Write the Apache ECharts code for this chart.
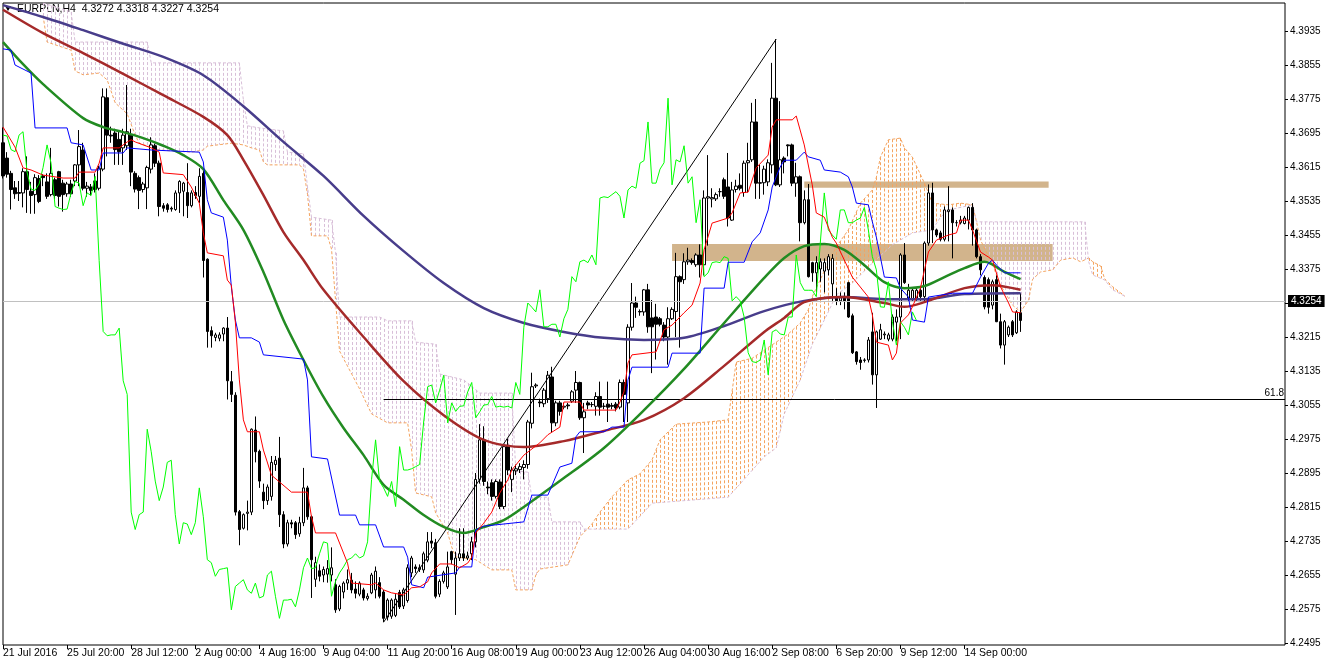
<!DOCTYPE html>
<html><head><meta charset="utf-8">
<script src="https://cdn.jsdelivr.net/npm/echarts/dist/echarts.min.js"></script>
<style>html,body{margin:0;padding:0;background:#fff}#c{width:1327px;height:664px}</style>
</head><body><div id="c"></div>
<script>
const symbolName = 'EURPLN', timeframe = 'H4';
const timeLabels = ['21 Jul 2016','25 Jul 20:00','28 Jul 12:00','2 Aug 00:00','4 Aug 16:00','9 Aug 04:00','11 Aug 20:00','16 Aug 08:00','19 Aug 00:00','23 Aug 12:00','26 Aug 04:00','30 Aug 16:00','2 Sep 08:00','6 Sep 20:00','9 Sep 12:00','14 Sep 00:00'];
const priceTicks = [4.2495,4.2575,4.2655,4.2735,4.2815,4.2895,4.2975,4.3055,4.3135,4.3215,4.3295,4.3375,4.3455,4.3535,4.3615,4.3695,4.3775,4.3855,4.3935];

const opens = [4.3672,4.3636,4.3600,4.3566,4.3555,4.3554,4.3604,4.3558,4.3550,4.3588,
4.3594,4.3580,4.3550,4.3585,4.3604,4.3577,4.3552,4.3575,4.3582,4.3620,
4.3655,4.3565,4.3568,4.3582,4.3565,4.3610,4.3778,4.3690,4.3695,4.3680,
4.3660,4.3665,4.3690,4.3600,4.3590,4.3562,4.3566,4.3610,4.3665,4.3624,
4.3524,4.3526,4.3518,4.3515,4.3554,4.3558,4.3555,4.3524,4.3555,4.3546,
4.3600,4.3398,4.3230,4.3214,4.3212,4.3222,4.3236,4.3110,4.3078,4.2804,
4.2765,4.2800,4.2803,4.2996,4.2946,4.2850,4.2830,4.2840,4.2915,4.2930,
4.2797,4.2728,4.2778,4.2778,4.2752,4.2778,4.2860,4.2792,4.2645,4.2665,
4.2655,4.2657,4.2655,4.2632,4.2575,4.2615,4.2636,4.2643,4.2622,4.2610,
4.2620,4.2600,4.2613,4.2620,4.2637,4.2615,4.2556,4.2558,4.2560,4.2614,
4.2582,4.2595,4.2660,4.2674,4.2668,4.2667,4.2690,4.2735,4.2731,4.2610,
4.2640,4.2627,4.2710,4.2657,4.2695,4.2705,4.2695,4.2705,4.2733,4.2880,
4.2973,4.2862,4.2872,4.2840,4.2874,4.2816,4.2960,4.2880,4.2900,4.2903,
4.2908,4.2915,4.3012,4.3100,4.3062,4.3058,4.3070,4.3121,4.3013,4.3060,
4.3050,4.3055,4.3064,4.3090,4.3108,4.3025,4.3060,4.3056,4.3052,4.3075,
4.3052,4.3057,4.3054,4.3057,4.3050,4.3108,4.3060,4.3238,4.3295,4.3275,
4.3274,4.3326,4.3260,4.3262,4.3258,4.3243,4.3215,4.3258,4.3275,4.3357,
4.3350,4.3392,4.3395,4.3385,4.3408,4.3385,4.3542,4.3540,4.3540,4.3557,
4.3585,4.3568,4.3490,4.3562,4.3572,4.3555,4.3625,4.3632,4.3721,4.3578,
4.3578,4.3580,4.3620,4.3777,4.3573,4.3636,4.3667,4.3667,4.3577,4.3592,
4.3484,4.3538,4.3390,4.3366,4.3375,4.3370,4.3373,4.3340,4.3310,4.3300,
4.3307,4.3343,4.3265,4.3180,4.3161,4.3160,4.3161,4.3227,4.3126,4.3210,
4.3220,4.3210,4.3210,4.3250,4.3262,4.3408,4.3305,4.3303,4.3305,4.3325,
4.3310,4.3436,4.3554,4.3467,4.3460,4.3445,4.3510,4.3514,4.3484,4.3484,
4.3482,4.3490,4.3520,4.3467,4.3404,4.3355,4.3350,4.3290,4.3350,4.3251,
4.3196,4.3220,4.3251,4.3225,4.3272];
const highs = [4.3708,4.3650,4.3606,4.3582,4.3582,4.3612,4.3640,4.3580,4.3598,4.3596,
4.3598,4.3600,4.3660,4.3590,4.3606,4.3585,4.3580,4.3585,4.3622,4.3702,
4.3672,4.3580,4.3575,4.3600,4.3618,4.3800,4.3800,4.3710,4.3705,4.3700,
4.3705,4.3808,4.3705,4.3605,4.3595,4.3580,4.3618,4.3685,4.3670,4.3630,
4.3530,4.3530,4.3522,4.3560,4.3584,4.3580,4.3624,4.3560,4.3570,4.3612,
4.3612,4.3400,4.3240,4.3225,4.3226,4.3238,4.3262,4.3135,4.3085,4.2808,
4.2800,4.2830,4.3000,4.3028,4.2950,4.2870,4.2868,4.2935,4.2935,4.2980,
4.2805,4.2785,4.2785,4.2782,4.2792,4.2907,4.2865,4.2795,4.2698,4.2680,
4.2675,4.2690,4.2720,4.2645,4.2632,4.2640,4.2668,4.2660,4.2640,4.2640,
4.2625,4.2612,4.2660,4.2675,4.2650,4.2620,4.2600,4.2600,4.2610,4.2620,
4.2625,4.2680,4.2700,4.2680,4.2680,4.2710,4.2756,4.2756,4.2740,4.2645,
4.2665,4.2710,4.2712,4.2710,4.2765,4.2765,4.2710,4.2745,4.2895,4.3010,
4.3005,4.2875,4.2880,4.2880,4.2880,4.2962,4.2975,4.2910,4.2915,4.2918,
4.2925,4.3020,4.3131,4.3106,4.3070,4.3095,4.3135,4.3145,4.3065,4.3065,
4.3060,4.3060,4.3090,4.3135,4.3110,4.3060,4.3065,4.3062,4.3085,4.3110,
4.3060,4.3110,4.3060,4.3062,4.3115,4.3115,4.3245,4.3342,4.3310,4.3280,
4.3328,4.3340,4.3302,4.3293,4.3262,4.3250,4.3285,4.3285,4.3413,4.3360,
4.3412,4.3425,4.3400,4.3412,4.3433,4.3560,4.3643,4.3565,4.3555,4.3565,
4.3590,4.3648,4.3580,4.3585,4.3600,4.3630,4.3672,4.3766,4.3775,4.3620,
4.3618,4.3633,4.3860,4.3916,4.3770,4.3640,4.3668,4.3670,4.3625,4.3595,
4.3560,4.3575,4.3392,4.3405,4.3400,4.3400,4.3410,4.3410,4.3330,4.3320,
4.3320,4.3345,4.3270,4.3182,4.3168,4.3165,4.3215,4.3272,4.3230,4.3246,
4.3228,4.3225,4.3268,4.3280,4.3412,4.3436,4.3340,4.3330,4.3330,4.3330,
4.3440,4.3574,4.3578,4.3470,4.3465,4.3522,4.3570,4.3520,4.3490,4.3500,
4.3500,4.3522,4.3530,4.3470,4.3410,4.3360,4.3355,4.3350,4.3360,4.3270,
4.3255,4.3242,4.3255,4.3278,4.3318];
const lows = [4.3588,4.3590,4.3515,4.3540,4.3535,4.3520,4.3507,4.3505,4.3505,4.3530,
4.3570,4.3540,4.3546,4.3540,4.3522,4.3510,4.3545,4.3545,4.3570,4.3570,
4.3560,4.3545,4.3548,4.3555,4.3560,4.3605,4.3640,4.3672,4.3620,4.3620,
4.3620,4.3655,4.3570,4.3555,4.3516,4.3555,4.3516,4.3600,4.3615,4.3499,
4.3510,4.3508,4.3510,4.3512,4.3507,4.3499,4.3495,4.3520,4.3540,4.3530,
4.3355,4.3190,4.3190,4.3205,4.3205,4.3205,4.3068,4.3062,4.2795,4.2725,
4.2762,4.2760,4.2796,4.2920,4.2860,4.2810,4.2820,4.2830,4.2900,4.2768,
4.2718,4.2722,4.2765,4.2740,4.2745,4.2770,4.2785,4.2601,4.2627,4.2640,
4.2638,4.2637,4.2640,4.2566,4.2570,4.2600,4.2620,4.2612,4.2600,4.2605,
4.2595,4.2595,4.2610,4.2600,4.2600,4.2544,4.2548,4.2552,4.2556,4.2575,
4.2575,4.2590,4.2650,4.2660,4.2662,4.2660,4.2685,4.2718,4.2600,4.2603,
4.2635,4.2622,4.2680,4.2561,4.2688,4.2688,4.2690,4.2690,4.2720,4.2870,
4.2865,4.2845,4.2830,4.2835,4.2810,4.2810,4.2890,4.2850,4.2890,4.2895,
4.2880,4.2905,4.3000,4.3095,4.3050,4.3050,4.3060,4.2990,4.3005,4.3030,
4.3045,4.3045,4.3060,4.3060,4.3020,4.2942,4.3045,4.3050,4.3030,4.3030,
4.3045,4.3015,4.3045,4.3040,4.3045,4.3015,4.3015,4.3230,4.3260,4.3265,
4.3265,4.3225,4.3130,4.3162,4.3240,4.3205,4.3150,4.3255,4.3215,4.3190,
4.3340,4.3385,4.3385,4.3380,4.3355,4.3360,4.3430,4.3520,4.3535,4.3545,
4.3540,4.3475,4.3488,4.3555,4.3560,4.3545,4.3555,4.3627,4.3540,4.3540,
4.3550,4.3570,4.3600,4.3570,4.3568,4.3600,4.3640,4.3570,4.3545,4.3440,
4.3480,4.3355,4.3345,4.3320,4.3345,4.3320,4.3360,4.3300,4.3290,4.3290,
4.3280,4.3260,4.3175,4.3150,4.3138,4.3155,4.3155,4.3103,4.3048,4.3208,
4.3210,4.3205,4.3205,4.3205,4.3210,4.3340,4.3300,4.3300,4.3300,4.3300,
4.3295,4.3430,4.3436,4.3450,4.3440,4.3440,4.3440,4.3400,4.3475,4.3480,
4.3480,4.3468,4.3430,4.3400,4.3360,4.3280,4.3270,4.3280,4.3250,4.3188,
4.3150,4.3215,4.3215,4.3222,4.3227];
const closes = [4.3594,4.3598,4.3562,4.3552,4.3553,4.3604,4.3562,4.3548,4.3590,4.3534,
4.3590,4.3546,4.3600,4.3548,4.3546,4.3550,4.3575,4.3552,4.3620,4.3663,
4.3565,4.3570,4.3560,4.3562,4.3612,4.3780,4.3690,4.3688,4.3656,4.3651,
4.3690,4.3698,4.3603,4.3563,4.3560,4.3575,4.3614,4.3667,4.3624,4.3522,
4.3518,4.3515,4.3516,4.3554,4.3581,4.3577,4.3524,4.3554,4.3548,4.3593,
4.3395,4.3228,4.3218,4.3220,4.3220,4.3236,4.3112,4.3080,4.2803,4.2762,
4.2797,4.2803,4.2998,4.2945,4.2876,4.2830,4.2862,4.2920,4.2925,4.2797,
4.2728,4.2778,4.2775,4.2750,4.2778,4.2860,4.2792,4.2691,4.2684,4.2652,
4.2668,4.2670,4.2672,4.2573,4.2628,4.2636,4.2644,4.2620,4.2612,4.2636,
4.2601,4.2605,4.2655,4.2664,4.2605,4.2553,4.2596,4.2596,4.2598,4.2580,
4.2620,4.2672,4.2695,4.2670,4.2672,4.2705,4.2733,4.2730,4.2605,4.2640,
4.2660,4.2674,4.2691,4.2695,4.2705,4.2695,4.2700,4.2733,4.2880,4.2973,
4.2875,4.2860,4.2840,4.2875,4.2816,4.2957,4.2902,4.2902,4.2905,4.2910,
4.2915,4.3015,4.3098,4.3102,4.3060,4.3090,4.3125,4.3013,4.3060,4.3040,
4.3052,4.3053,4.3086,4.3108,4.3025,4.3039,4.3055,4.3056,4.3075,4.3050,
4.3052,4.3050,4.3052,4.3048,4.3108,4.3080,4.3238,4.3295,4.3285,4.3274,
4.3326,4.3239,4.3239,4.3245,4.3245,4.3215,4.3258,4.3280,4.3357,4.3345,
4.3392,4.3396,4.3390,4.3408,4.3385,4.3542,4.3545,4.3543,4.3550,4.3557,
4.3546,4.3495,4.3561,4.3570,4.3565,4.3624,4.3630,4.3721,4.3577,4.3577,
4.3610,4.3625,4.3777,4.3573,4.3632,4.3627,4.3665,4.3577,4.3592,4.3484,
4.3538,4.3357,4.3366,4.3390,4.3392,4.3390,4.3404,4.3400,4.3300,4.3310,
4.3300,4.3262,4.3178,4.3157,4.3155,4.3161,4.3208,4.3126,4.3227,4.3232,
4.3222,4.3220,4.3262,4.3262,4.3408,4.3343,4.3325,4.3325,4.3325,4.3310,
4.3436,4.3554,4.3467,4.3455,4.3445,4.3514,4.3514,4.3484,4.3484,4.3490,
4.3495,4.3520,4.3467,4.3404,4.3373,4.3286,4.3285,4.3345,4.3251,4.3196,
4.3251,4.3238,4.3220,4.3274,4.3254];

// moving averages, sampled [bar, price]
const maGreen = [[0,4.3909],[5,4.3857],[10,4.3810],[20,4.3730],[25,4.3709],[30,4.3697],[35,4.3683],[40,4.3665],[45,4.3643],[50,4.3610],[55,4.3537],[60,4.3467],[65,4.3368],[70,4.3255],[75,4.3161],[80,4.3074],[85,4.3001],[90,4.2937],[95,4.2867],[100,4.2832],[105,4.2796],[110,4.2768],[115,4.2754],[120,4.2768],[125,4.2784],[130,4.2815],[140,4.2883],[150,4.2954],[160,4.3043],[170,4.3140],[180,4.3248],[190,4.3354],[195,4.3401],[200,4.3429],[205,4.3434],[210,4.3420],[215,4.3384],[220,4.3344],[225,4.3330],[230,4.3335],[235,4.3356],[240,4.3377],[245,4.3392],[250,4.3368],[254,4.3351]];
const maBrown = [[0,4.3985],[10,4.3930],[20,4.3883],[30,4.3834],[40,4.3784],[50,4.3733],[56,4.3690],[60,4.3632],[65,4.3549],[70,4.3462],[75,4.3396],[80,4.3326],[90,4.3215],[100,4.3111],[110,4.3031],[120,4.2973],[130,4.2956],[140,4.2970],[150,4.2994],[160,4.3020],[170,4.3071],[180,4.3147],[190,4.3227],[195,4.3260],[200,4.3297],[210,4.3309],[220,4.3295],[225,4.3286],[230,4.3297],[240,4.3330],[247,4.3337],[254,4.3326]];
const maNavy = [[0,4.3996],[10,4.3968],[20,4.3937],[30,4.3905],[40,4.3874],[50,4.3831],[60,4.3758],[70,4.3674],[80,4.3594],[90,4.3500],[100,4.3417],[110,4.3342],[120,4.3283],[130,4.3248],[140,4.3227],[150,4.3213],[160,4.3208],[170,4.3213],[180,4.3241],[190,4.3276],[200,4.3300],[210,4.3309],[220,4.3304],[230,4.3304],[240,4.3316],[254,4.3318]];

// Ichimoku
const tenkan = [[0,4.3709],[3,4.3662],[5,4.3613],[7,4.3608],[10,4.3596],[15,4.3589],[18,4.3589],[19,4.3603],[23,4.3603],[24,4.3624],[25,4.3660],[29,4.3660],[31,4.3674],[32,4.3679],[33,4.3674],[37,4.3660],[39,4.3650],[40,4.3601],[45,4.3597],[47,4.3568],[49,4.3530],[50,4.3460],[51,4.3413],[55,4.3406],[56,4.3349],[57,4.3337],[58,4.3250],[59,4.3114],[60,4.3020],[61,4.2992],[64,4.2992],[65,4.2949],[67,4.2890],[69,4.2874],[72,4.2850],[76,4.2850],[77,4.2792],[78,4.2754],[83,4.2754],[86,4.2683],[87,4.2636],[92,4.2632],[93,4.2636],[95,4.2620],[97,4.2613],[100,4.2608],[102,4.2625],[104,4.2627],[106,4.2639],[107,4.2660],[109,4.2681],[112,4.2681],[114,4.2672],[116,4.2683],[117,4.2697],[118,4.2754],[120,4.2777],[122,4.2803],[124,4.2848],[126,4.2879],[127,4.2902],[130,4.2937],[134,4.2966],[136,4.2985],[139,4.3003],[140,4.3062],[144,4.3062],[145,4.3043],[153,4.3043],[154,4.3062],[155,4.3086],[156,4.3154],[157,4.3173],[163,4.3180],[165,4.3232],[167,4.3243],[170,4.3272],[172,4.3290],[174,4.3342],[175,4.3420],[177,4.3483],[181,4.3495],[182,4.3507],[184,4.3554],[186,4.3556],[188,4.3613],[191,4.3643],[192,4.3709],[193,4.3726],[197,4.3726],[198,4.3735],[200,4.3667],[202,4.3573],[203,4.3507],[205,4.3497],[207,4.3450],[208,4.3436],[212,4.3356],[216,4.3309],[217,4.3267],[218,4.3203],[221,4.3196],[222,4.3161],[223,4.3177],[224,4.3248],[226,4.3267],[227,4.3286],[229,4.3330],[231,4.3415],[233,4.3443],[236,4.3455],[238,4.3460],[239,4.3490],[241,4.3490],[242,4.3467],[244,4.3415],[246,4.3403],[247,4.3396],[249,4.3333],[251,4.3295],[252,4.3274],[254,4.3272]];
const kijun = [[0,4.3893],[2,4.3890],[3,4.3855],[7,4.3836],[8,4.3707],[16,4.3707],[17,4.3672],[20,4.3667],[22,4.3608],[24,4.3608],[25,4.3648],[30,4.3648],[31,4.3660],[37,4.3655],[49,4.3650],[50,4.3627],[51,4.3538],[52,4.3507],[55,4.3497],[56,4.3443],[57,4.3333],[58,4.3255],[59,4.3213],[62,4.3213],[64,4.3203],[65,4.3173],[75,4.3163],[76,4.3114],[77,4.2933],[81,4.2928],[84,4.2796],[88,4.2796],[89,4.2773],[93,4.2773],[95,4.2721],[100,4.2721],[101,4.2697],[102,4.2632],[105,4.2625],[106,4.2650],[113,4.2660],[114,4.2674],[117,4.2674],[118,4.2761],[120,4.2770],[130,4.2780],[132,4.2843],[136,4.2843],[139,4.2909],[142,4.2918],[143,4.2980],[144,4.2992],[150,4.2992],[152,4.3003],[155,4.3003],[156,4.3114],[157,4.3144],[166,4.3144],[167,4.3177],[174,4.3177],[175,4.3330],[180,4.3330],[181,4.3391],[185,4.3391],[187,4.3439],[189,4.3460],[191,4.3514],[192,4.3568],[193,4.3592],[194,4.3615],[195,4.3631],[198,4.3631],[200,4.3650],[201,4.3639],[204,4.3631],[205,4.3608],[209,4.3603],[211,4.3592],[212,4.3568],[213,4.3530],[216,4.3526],[217,4.3486],[218,4.3450],[220,4.3356],[223,4.3354],[224,4.3330],[226,4.3309],[227,4.3255],[230,4.3250],[231,4.3309],[237,4.3318],[242,4.3318],[244,4.3356],[246,4.3389],[247,4.3396],[248,4.3384],[250,4.3366],[254,4.3366]];
const spanA = [[10,4.3971],[11,4.3909],[17,4.3890],[18,4.3841],[20,4.3832],[24,4.3836],[26,4.3820],[28,4.3766],[31,4.3740],[33,4.3690],[34,4.3671],[39,4.3655],[47,4.3650],[50,4.3655],[51,4.3664],[57,4.3671],[60,4.3667],[62,4.3660],[64,4.3655],[65,4.3627],[66,4.3620],[74,4.3620],[75,4.3610],[76,4.3551],[77,4.3453],[81,4.3453],[82,4.3422],[83,4.3302],[84,4.3182],[89,4.3093],[92,4.3034],[96,4.3013],[101,4.3013],[102,4.2949],[103,4.2848],[107,4.2839],[108,4.2801],[111,4.2754],[112,4.2721],[113,4.2698],[118,4.2691],[120,4.2679],[122,4.2667],[127,4.2667],[128,4.2620],[132,4.2620],[133,4.2655],[134,4.2669],[141,4.2679],[144,4.2745],[146,4.2765],[147,4.2775],[149,4.2803],[152,4.2839],[156,4.2879],[159,4.2893],[162,4.2926],[164,4.2973],[168,4.3010],[176,4.3015],[181,4.3020],[183,4.3156],[187,4.3165],[196,4.3222],[199,4.3248],[201,4.3279],[202,4.3310],[206,4.3390],[208,4.3427],[211,4.3467],[214,4.3530],[217,4.3561],[218,4.3591],[219,4.3638],[221,4.3679],[224,4.3683],[225,4.3660],[227,4.3638],[230,4.3577],[231,4.3554],[232,4.3530],[236,4.3526],[239,4.3530],[242,4.3526],[243,4.3486],[244,4.3443],[247,4.3385],[249,4.3337],[252,4.3290],[254,4.3274],[256,4.3302],[257,4.3351],[259,4.3368],[262,4.3373],[264,4.3396],[267,4.3401],[269,4.3392],[271,4.3401],[272,4.3392],[274,4.3382],[275,4.3351],[277,4.3333],[280,4.3311]];
const spanB = [[10,4.4001],[17,4.3980],[18,4.3909],[36,4.3909],[37,4.3860],[59,4.3860],[60,4.3773],[61,4.3712],[64,4.3707],[70,4.3700],[71,4.3650],[75,4.3646],[76,4.3570],[77,4.3497],[82,4.3490],[83,4.3413],[84,4.3262],[94,4.3262],[96,4.3253],[102,4.3253],[103,4.3203],[108,4.3198],[109,4.3128],[115,4.3114],[119,4.3083],[127,4.3083],[128,4.2900],[131,4.2897],[132,4.2838],[136,4.2838],[137,4.2780],[144,4.2780],[145,4.2763],[146,4.2763],[156,4.2763],[162,4.2824],[181,4.2838],[190,4.2933],[193,4.2954],[195,4.3034],[199,4.3114],[202,4.3198],[206,4.3274],[208,4.3314],[212,4.3342],[217,4.3389],[222,4.3432],[227,4.3460],[232,4.3467],[234,4.3497],[236,4.3514],[242,4.3526],[243,4.3486],[270,4.3486],[271,4.3392],[272,4.3361],[275,4.3349],[277,4.3326],[280,4.3311]];
const cloudEdges = [10,146,242,271,280];
const chikouShift = 26;

const bidPrice = 4.3254;
const fibLow = [95, 4.2544], fibHigh = [193, 4.3916];
const fibLevel = 4.3068, fibLabel = '61.8';
const zoneUpper = [200, 261, 4.3581, 4.3566];
const zoneLower = [167, 262, 4.3434, 4.3394];
const barSlots = 321;

const FONT = '"Liberation Sans", Arial, sans-serif';
const categories = Array.from({length: barSlots}, (_, i) => String(i));
const candles = opens.map((o, i) => [o, closes[i], lows[i], highs[i]]);
const chikou = closes.slice(chikouShift).map((c, j) => [j, c]);
const mean = arr => arr.reduce((s, p) => s + p[1], 0) / arr.length;

// y of a pixel polyline at pixel x (rendering helper for the hatch)
function polyY(pts, x) {
  for (let k = 0; k < pts.length - 1; k++) {
    const p = pts[k], q = pts[k + 1];
    if (x >= p[0] && x <= q[0]) {
      if (q[0] === p[0]) return p[1];
      return p[1] + (q[1] - p[1]) * (x - p[0]) / (q[0] - p[0]);
    }
  }
  return null;
}

const chart = echarts.init(document.getElementById('c'), null, {renderer: 'canvas'});
const lineS = (data, color, width, z, extra) => Object.assign({
  type: 'line', data, symbol: 'none', silent: true, z,
  lineStyle: {color, width}, itemStyle: {color}
}, extra || {});

const last = opens.length - 1;
const f4 = v => v.toFixed(4);
const showTime = (i) => i % 16 === 0 && i / 16 < timeLabels.length;

chart.setOption({
  animation: false,
  backgroundColor: '#fff',
  grid: {left: 3, top: 3, right: 42, bottom: 19, show: true, borderColor: '#000', borderWidth: 1, backgroundColor: '#fff'},
  xAxis: {
    type: 'category', data: categories, boundaryGap: false,
    axisLine: {show: false},
    axisTick: {show: true, length: 4, lineStyle: {color: '#000'}, interval: showTime},
    axisLabel: {color: '#000', fontSize: 10.5, fontFamily: FONT, align: 'left', margin: 3,
      interval: showTime,
      formatter: (v, i) => showTime(i) ? timeLabels[i / 16] : ''},
    splitLine: {show: false}
  },
  yAxis: {
    type: 'value', position: 'right', min: 4.24903, max: 4.40009, scale: true,
    axisLine: {show: false}, splitLine: {show: false},
    axisTick: {show: true, length: 3, lineStyle: {color: '#000'}, customValues: priceTicks},
    axisLabel: {color: '#000', fontSize: 10, fontFamily: FONT, margin: 5, customValues: priceTicks,
      formatter: v => v.toFixed(4)}
  },
  graphic: [
    {type: 'polygon', shape: {points: [[5, 6], [11, 6], [8, 11]]}, style: {fill: '#000'}},
    {type: 'text', left: 17, top: 4, style: {
      text: symbolName + ',' + timeframe + '  ' + [opens[last], highs[last], lows[last], closes[last]].map(f4).join(' '),
      font: '10.5px ' + FONT, fill: '#000'}}
  ],
  series: [
    {type: 'line', data: [], z: 1, silent: true,
      markArea: {silent: true, itemStyle: {color: '#D2B48C', opacity: 1},
        data: [
          [{xAxis: zoneUpper[0], yAxis: zoneUpper[2]}, {xAxis: zoneUpper[1], yAxis: zoneUpper[3]}],
          [{xAxis: zoneLower[0], yAxis: zoneLower[2]}, {xAxis: zoneLower[1], yAxis: zoneLower[3]}]
        ]}},
    {type: 'custom', z: 2, silent: true, clip: true, data: [[0, 4.3]],
      renderItem: (params, api) => {
        const children = [];
        for (let r = 0; r < cloudEdges.length - 1; r++) {
          const s = cloudEdges[r], e = cloudEdges[r + 1];
          const a = spanA.filter(p => p[0] >= s && p[0] <= e);
          const b = spanB.filter(p => p[0] >= s && p[0] <= e);
          const pa = a.map(p => api.coord(p)), pb = b.map(p => api.coord(p));
          const color = mean(a) > mean(b) ? '#F4A460' : '#D8BFD8';
          for (let k = s; k <= e; k++) {
            const x = api.coord([k, 4.3])[0];
            const ya = polyY(pa, x), yb = polyY(pb, x);
            if (ya === null || yb === null) continue;
            const xx = Math.round(x) + 0.5;
            children.push({type: 'line', shape: {x1: xx, y1: Math.min(ya, yb), x2: xx, y2: Math.max(ya, yb)},
              style: {stroke: color, lineWidth: 1, lineDash: [3, 2]}});
          }
        }
        return {type: 'group', children};
      }},
    lineS(spanA, '#F4A460', 1, 3, {lineStyle: {color: '#F4A460', width: 1, type: [3, 2]}}),
    lineS(spanB, '#D8BFD8', 1, 3, {lineStyle: {color: '#D8BFD8', width: 1, type: [3, 2]}}),
    {type: 'candlestick', data: candles, z: 4, barWidth: 3, silent: true,
      itemStyle: {color: '#fff', color0: '#000', borderColor: '#000', borderColor0: '#000', borderColorDoji: '#000', borderWidth: 1},
      markLine: {silent: true, symbol: ['none', 'none'], animation: false,
        data: [
          [{coord: [fibLow[0], fibLevel], lineStyle: {color: '#000', width: 1, type: 'solid'},
            label: {show: true, position: 'insideEndTop', formatter: fibLabel, color: '#000', fontSize: 10, fontFamily: FONT, distance: 1}},
           {coord: [barSlots - 1, fibLevel]}],
          [{coord: fibLow, lineStyle: {color: '#000', width: 1, type: 'solid'}, label: {show: false}},
           {coord: fibHigh}],
          {yAxis: bidPrice, lineStyle: {color: '#C0C0C0', width: 1, type: 'solid'},
            label: {show: true, position: 'end', distance: 3, formatter: f4(bidPrice),
              color: '#fff', backgroundColor: '#000', padding: [1, 3, 1, 3], fontSize: 10, fontFamily: FONT}}
        ]}},
    lineS(maNavy, '#483D8B', 2.5, 5, {smooth: 0.3}),
    lineS(maBrown, '#A52A2A', 2.5, 5, {smooth: 0.3}),
    lineS(maGreen, '#228B22', 2.5, 5, {smooth: 0.3}),
    lineS(chikou, '#00FF00', 1, 6),
    lineS(kijun, '#0000FF', 1, 6),
    lineS(tenkan, '#FF0000', 1, 6)
  ]
});
</script></body></html>
